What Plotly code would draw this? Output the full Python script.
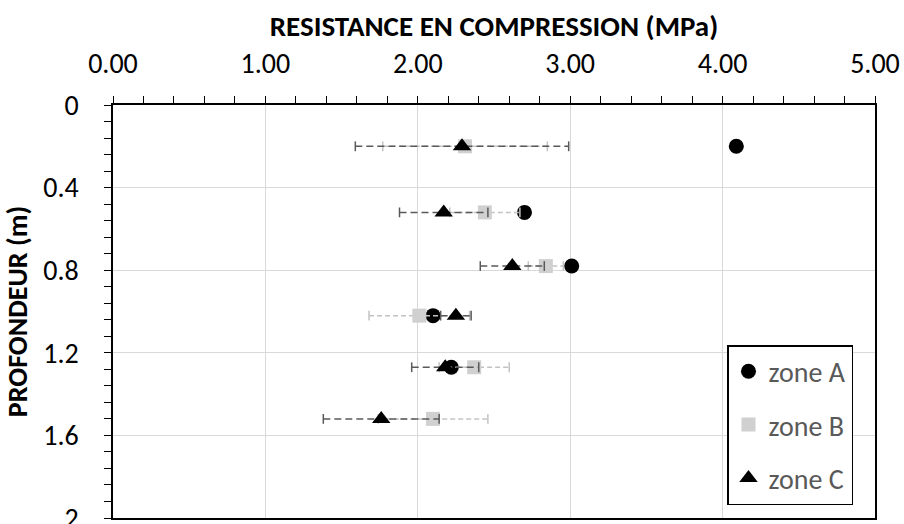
import plotly.graph_objects as go

depth = [0.20, 0.52, 0.78, 1.02, 1.27, 1.52]
zone_a = [4.09, 2.70, 3.01, 2.10, 2.22, None]
zone_b = [2.31, 2.44, 2.84, 2.01, 2.37, 2.10]
zone_b_err = [0.54, 0.23, 0.115, 0.33, 0.23, 0.36]
zone_c = [2.29, 2.17, 2.62, 2.25, 2.18, 1.76]
zone_c_err = [0.70, 0.29, 0.21, 0.10, 0.22, 0.38]

x_ticks = [0, 1, 2, 3, 4, 5]
y_ticks = [0, 0.4, 0.8, 1.2, 1.6, 2.0]

FONT = "Carlito, Calibri, Lato, sans-serif"
FS = 28


def err_segments(vals, errs, ys):
    xs, yy = [], []
    for v, e, d in zip(vals, errs, ys):
        xs += [v - e, v + e, None]
        yy += [d, d, None]
    return xs, yy


fig = go.Figure()

fig.add_trace(go.Scatter(
    x=zone_a, y=depth, mode="markers", name="zone A",
    marker=dict(symbol="circle", size=15, color="black"),
    legendgroup="a",
))

bx, by = err_segments(zone_b, zone_b_err, depth)
fig.add_trace(go.Scatter(
    x=bx, y=by, mode="lines+markers", showlegend=False, hoverinfo="skip",
    line=dict(color="#c3c3c3", width=1.5, dash="5px,3px"),
    marker=dict(symbol="line-ns", size=7, line=dict(color="#c3c3c3", width=1.5)),
))
fig.add_trace(go.Scatter(
    x=zone_b, y=depth, mode="markers", name="zone B",
    marker=dict(symbol="square", size=14, color="#d0d0d0"),
    legendgroup="b",
))

cx, cy = err_segments(zone_c, zone_c_err, depth)
fig.add_trace(go.Scatter(
    x=cx, y=cy, mode="lines+markers", showlegend=False, hoverinfo="skip",
    line=dict(color="#595959", width=1.5, dash="7px,4px"),
    marker=dict(symbol="line-ns", size=7, line=dict(color="#595959", width=1.5)),
))
fig.add_trace(go.Scatter(
    x=zone_c, y=depth, mode="markers", name="zone C",
    marker=dict(symbol="triangle-up", size=16, color="black"),
    legendgroup="c",
))

W, H = 904, 524
L, R, T, B = 113, 29, 105, 6
pw = W - L - R
ph = H - T - B

fig.update_layout(
    width=W, height=H,
    margin=dict(l=L, r=R, t=T, b=B),
    paper_bgcolor="white", plot_bgcolor="white",
    font=dict(family=FONT, size=FS, color="black"),
    title=dict(text="<b>RESISTANCE EN COMPRESSION (MPa)</b>",
               font=dict(family=FONT, size=29, color="black"),
               xref="paper", x=0.5, xanchor="center",
               yref="container", y=1 - 26 / H, yanchor="middle"),
    legend=dict(
        x=(727 - L) / pw, y=1 - (345 - T) / ph,
        xanchor="left", yanchor="top",
        bordercolor="black", borderwidth=1.5, bgcolor="white",
        font=dict(family=FONT, size=FS, color="#595959"),
        traceorder="grouped", tracegroupgap=14,
    ),
    xaxis=dict(
        side="top", range=[0, 5], tickvals=x_ticks, tickformat=".2f",
        showgrid=True, gridcolor="#d9d9d9", gridwidth=1,
        showline=True, linecolor="black", linewidth=1.5, mirror=True,
        ticks="outside", ticklen=7, tickcolor="black", tickwidth=1,
        minor=dict(dtick=0.2, ticks="outside", ticklen=7, tickcolor="black", showgrid=False),
        ticklabelstandoff=12, zeroline=False, automargin=False,
    ),
    yaxis=dict(
        range=[2, 0], tickvals=y_ticks,
        showgrid=True, gridcolor="#d9d9d9", gridwidth=1,
        showline=True, linecolor="black", linewidth=1.5, mirror=True,
        ticks="outside", ticklen=7, tickcolor="black", tickwidth=1,
        minor=dict(dtick=0.08, ticks="outside", ticklen=7, tickcolor="black", showgrid=False),
        ticklabelstandoff=20, ticklabeloverflow="allow", zeroline=False, automargin=False,
        title=dict(text="<b>PROFONDEUR (m)</b>", standoff=8,
                   font=dict(family=FONT, size=28, color="black")),
    ),
)

fig.write_html("out.html", config={"displayModeBar": False},
               post_script="document.body.style.margin='0';")
